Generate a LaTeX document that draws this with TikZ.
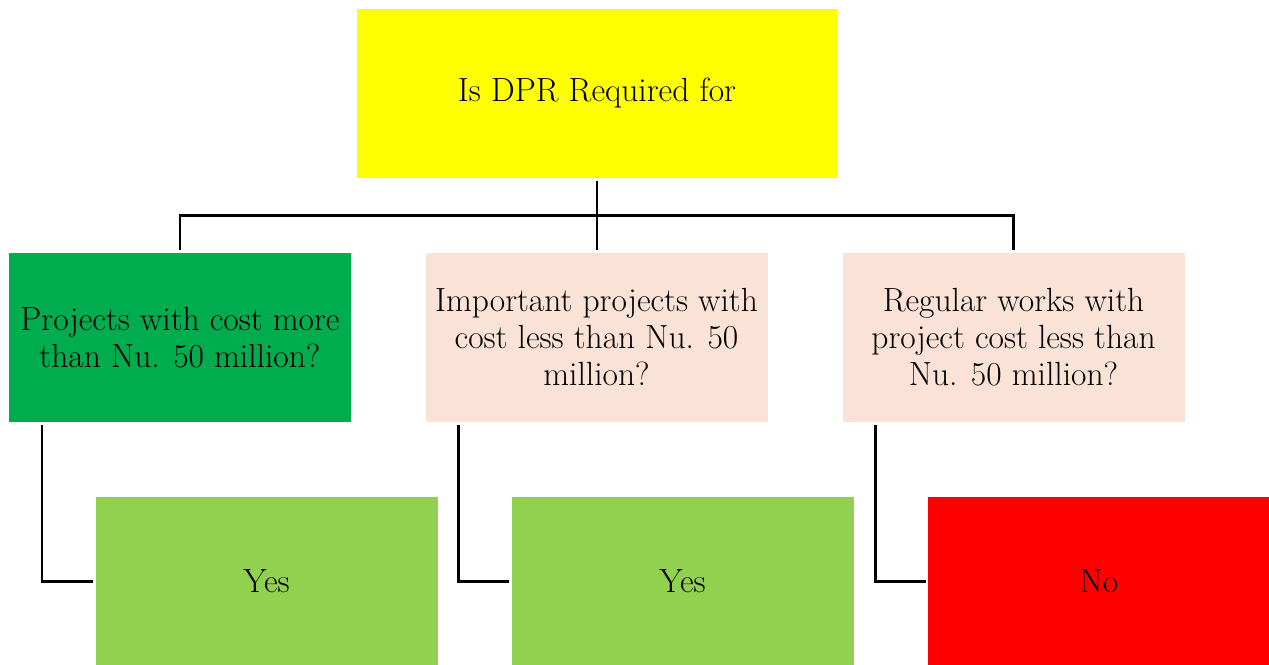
\documentclass[tikz,border=0pt]{standalone}
\begin{document}
\begin{tikzpicture}[x=1pt,y=-1pt,
  box/.style={draw=none,minimum width=342pt,minimum height=169pt,inner sep=0pt,align=center,font=\fontsize{33.5}{37}\selectfont,text=black},
  conn/.style={line width=2.6pt,black}]
\useasboundingbox (0,0) rectangle (1269,664);
\definecolor{cyel}{HTML}{FFFF00}
\definecolor{cgreen}{HTML}{00AD4E}
\definecolor{cpeach}{HTML}{FAE3D6}
\definecolor{clight}{HTML}{92D050}
\definecolor{cred}{HTML}{FF0000}
\node[box,fill=cyel,minimum width=480pt] (top) at (597,93.5) {Is DPR Required for};
\node[box,fill=cgreen] (q1) at (180,337.5) {Projects with cost more\\than Nu. 50 million?};
\node[box,fill=cpeach] (q2) at (596.5,337.5) {Important projects with\\cost less than Nu. 50\\million?};
\node[box,fill=cpeach] (q3) at (1013.5,337.5) {Regular works with\\project cost less than\\Nu. 50 million?};
\node[box,fill=clight] (a1) at (266.5,581.5) {Yes};
\node[box,fill=clight] (a2) at (682.5,581.5) {Yes};
\node[box,fill=cred] (a3) at (1099,581.5) {No};
\draw[conn] ([yshift=-3pt]top.south) -- ++(0,34) coordinate (j);
\draw[conn] ([yshift=3pt]q1.north) |- (j) -| ([yshift=3pt]q3.north);
\draw[conn] (j) -- ([yshift=3pt]j |- q2.north);
\draw[conn] ([xshift=33pt,yshift=-3pt]q1.south west) |- ([xshift=-2pt]a1.west);
\draw[conn] ([xshift=33pt,yshift=-3pt]q2.south west) |- ([xshift=-2pt]a2.west);
\draw[conn] ([xshift=33pt,yshift=-3pt]q3.south west) |- ([xshift=-2pt]a3.west);
\end{tikzpicture}
\end{document}
